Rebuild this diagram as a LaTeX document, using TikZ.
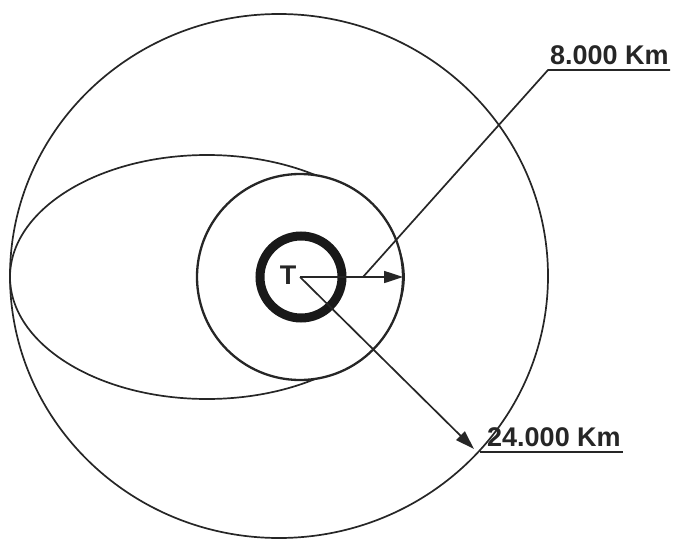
\documentclass[tikz,border=0pt]{standalone}
\usepackage{fontspec}
\setmainfont{Liberation Sans}
\usetikzlibrary{arrows.meta}
\begin{document}
\begin{tikzpicture}[x=1pt,y=-1pt,
  thinline/.style={line width=1.7pt, draw=black!85},
  arr/.style={thinline,-{Triangle[length=19pt,width=12pt]}},
  lbl/.style={font=\fontsize{27}{27}\selectfont\bfseries, inner sep=0pt, text=black!85}]
\useasboundingbox (0,0) rectangle (673,541);
% outer orbit (24.000 Km)
\draw[thinline] (279,276) ellipse [x radius=269, y radius=262];
% transfer ellipse
\draw[thinline] (207,277) ellipse [x radius=197, y radius=122];
% inner orbit (8.000 Km)
\draw[thinline, line width=2.3pt, fill=white] (300,277) circle [radius=103];
% Earth
\draw[line width=9pt, draw=black!90] (301,277) circle [radius=41];
\coordinate (O) at (300,277);
\node[lbl, anchor=center] (T) at (288,275) {T};
\coordinate (R1) at (403,277);
\coordinate (R2) at (474,449);
\draw[arr] (O) -- (R1);
\draw[arr] (O) -- (R2);
% leader for 8.000 Km
\coordinate (J) at (363,277);
\coordinate (K1) at (548,70);
\coordinate (K1e) at (670,70);
\node[lbl, anchor=base west] (L1) at (550,64) {8.000 Km};
\draw[thinline] (J) -- (K1) -- (K1e);
% underline for 24.000 Km
\coordinate (K2) at (480,452);
\coordinate (K2e) at (623,452);
\node[lbl, anchor=base west] (L2) at (487,446) {24.000 Km};
\draw[thinline] (K2) -- (K2e);
\end{tikzpicture}
\end{document}
